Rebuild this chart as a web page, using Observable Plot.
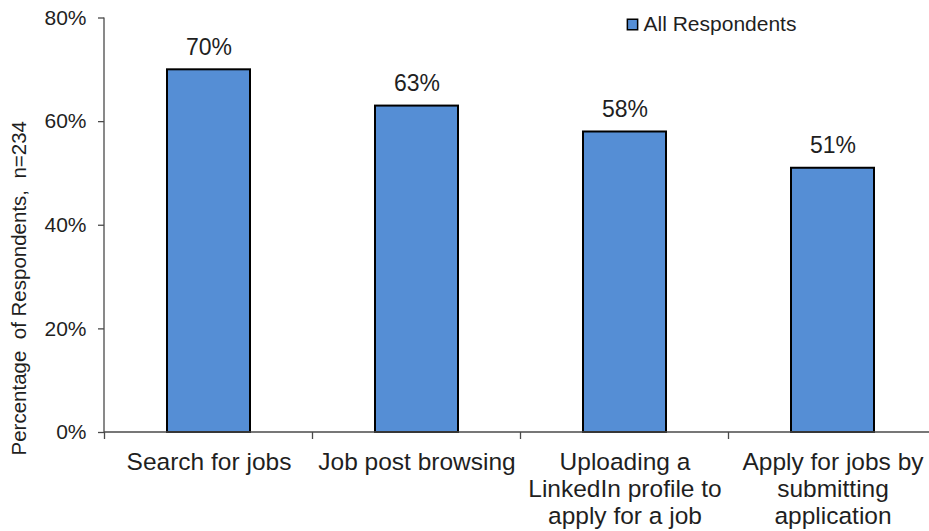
<!DOCTYPE html>
<html>
<head>
<meta charset="utf-8">
<script src="https://cdn.jsdelivr.net/npm/d3@7"></script>
<script src="https://cdn.jsdelivr.net/npm/@observablehq/plot@0.6"></script>
<style>
  html, body { margin: 0; padding: 0; background: #fff; overflow: hidden; }
  #chart { width: 929px; height: 531px; }
</style>
</head>
<body>
<div id="chart"></div>
<script>
const categories = [
  "Search for jobs",
  "Job post browsing",
  "Uploading a\nLinkedIn profile to\napply for a job",
  "Apply for jobs by\nsubmitting\napplication"
];
const values = [70, 63, 58, 51];
const yTicks = [0, 20, 40, 60, 80];
const seriesName = "All Respondents";
const yLabel = "Percentage  of Respondents,  n=234";

const data = categories.map((c, i) => ({category: c, value: values[i]}));

const barFill = "#558ed5";
const axisColor = "#4a4a4a";
const textColor = "#1f1f1f";

// axis lines and category-boundary ticks, placed via the scales
function axisLines(index, scales, channels, dimensions) {
  const x = scales.x, y = scales.y;
  const step = x.step ? x.step() : (dimensions.width - dimensions.marginLeft - dimensions.marginRight) / categories.length;
  const bw = x.bandwidth ? x.bandwidth() : 0;
  const y0 = y(0), yTop = y(d3.max(yTicks));
  const left = dimensions.marginLeft;
  const g = d3.create("svg:g").attr("stroke", axisColor).attr("stroke-width", 1.3).attr("fill", "none");
  g.append("line").attr("x1", left).attr("x2", left).attr("y1", yTop).attr("y2", y0);
  g.append("line").attr("x1", left).attr("x2", dimensions.width).attr("y1", y0).attr("y2", y0);
  categories.forEach(c => {
    const bx = x(c) + bw / 2 - step / 2;
    g.append("line").attr("x1", bx).attr("x2", bx).attr("y1", y0).attr("y2", y0 + 7);
  });
  return g.node();
}

const chart = Plot.plot({
  width: 929,
  height: 531,
  marginTop: 17.5,
  marginBottom: 99,
  marginLeft: 104,
  marginRight: 0,
  style: {fontFamily: "'Liberation Sans', Arial, sans-serif", color: textColor, background: "#fff"},
  x: {domain: categories, range: [104, 938], paddingInner: 0.6, paddingOuter: 0.3, axis: null},
  y: {domain: [0, 80], axis: null},
  marks: [
    Plot.barY(data, {x: "category", y: "value", fill: barFill, stroke: "#000", strokeWidth: 2}),
    axisLines,
    Plot.axisY({ticks: yTicks, tickFormat: d => d + "%", tickSize: 6, tickPadding: 12, fontSize: 21, stroke: axisColor, strokeWidth: 1.3, fill: textColor, label: null}),
    Plot.text(data, {x: "category", y: "value", text: d => d.value + "%", dy: -15, lineAnchor: "bottom", fontSize: 23, fill: textColor}),
    Plot.text(categories, {x: d => d, frameAnchor: "bottom", dy: 18, lineAnchor: "top", lineHeight: 1.1, fontSize: 24.5, fill: textColor}),
    Plot.text([yLabel], {frameAnchor: "left", textAnchor: "middle", lineAnchor: "middle", rotate: -90, dx: -85.5, dy: 63, fontSize: 20.5, fill: textColor}),
    Plot.dot([seriesName], {frameAnchor: "top-left", dx: 528, dy: 6.5, symbol: "square", r: 5.8, fill: barFill, stroke: "#000", strokeWidth: 1.5}),
    Plot.text([seriesName], {frameAnchor: "top-left", dx: 539, dy: 6.5, textAnchor: "start", lineAnchor: "middle", fontSize: 21, fill: textColor})
  ]
});
document.getElementById("chart").appendChild(chart);
</script>
</body>
</html>
